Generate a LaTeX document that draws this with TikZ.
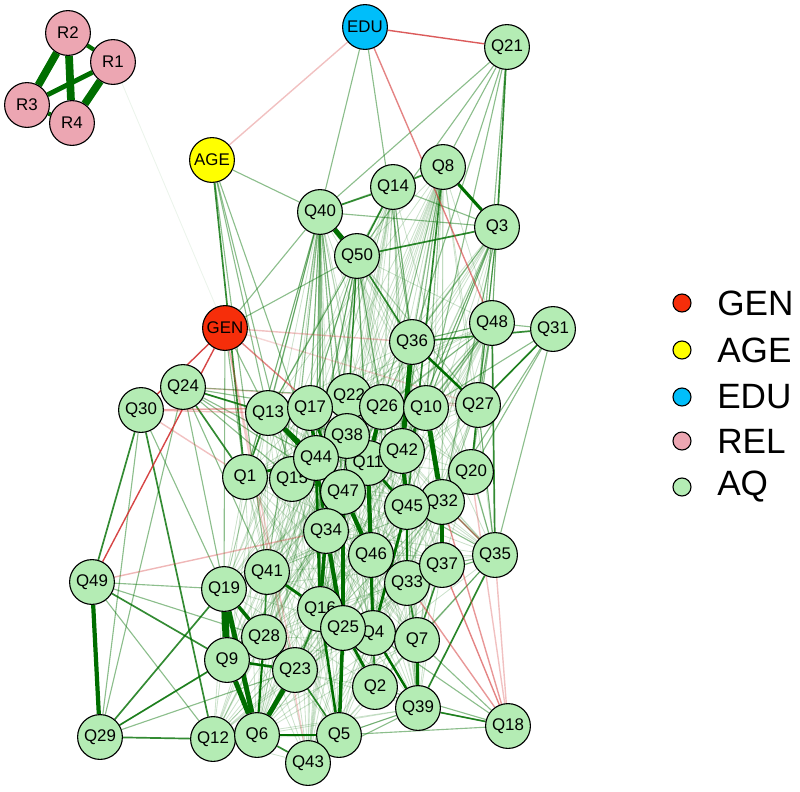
\documentclass[tikz,border=0pt]{standalone}
\usepackage{fontspec}
\setmainfont{Liberation Sans}
\usetikzlibrary{backgrounds}
\definecolor{aqfill}{RGB}{180,236,180}
\definecolor{relfill}{RGB}{236,166,178}
\definecolor{genfill}{RGB}{246,46,10}
\definecolor{agefill}{RGB}{255,255,0}
\definecolor{edufill}{RGB}{0,190,250}
\definecolor{posedge}{RGB}{0,110,0}
\definecolor{negedge}{RGB}{210,50,50}
\tikzset{
  item/.style={circle, draw=black, line width=0.8pt, minimum size=1.12cm, inner sep=0pt, font=\fontsize{12}{14}\selectfont},
  aq/.style={item, fill=aqfill},
  rel/.style={item, fill=relfill},
  legdot/.style={circle, draw=black, line width=0.8pt, minimum size=0.45cm, inner sep=0pt},
  legtext/.style={anchor=west, inner sep=0pt, font=\fontsize{25}{28}\selectfont},
  faintpos/.style={draw=posedge, opacity=0.2, line width=0.6pt},
  lightpos/.style={draw=posedge, opacity=0.45, line width=0.8pt},
  midpos/.style={draw=posedge, opacity=0.8, line width=1.2pt},
  strongpos/.style={draw=posedge, line width=#1},
  negline/.style={draw=negedge, opacity=#1, line width=1pt}
}
\def\corelist{Q1,Q2,Q4,Q5,Q6,Q7,Q9,Q10,Q11,Q12,Q13,Q15,Q16,Q17,Q19,Q20,Q22,Q23,Q25,Q26,Q27,Q28,Q32,Q33,Q34,Q36,Q37,Q38,Q41,Q42,Q43,Q44,Q45,Q46,Q47,Q3,Q50,Q40,Q14,Q8,Q48,Q35,Q39}
\begin{document}
\begin{tikzpicture}[x=0.025cm, y=-0.025cm]
\useasboundingbox (0,0) rectangle (800,791);

% REL block
\node[rel] (R2) at (68,33) {R2};
\node[rel] (R1) at (113,62) {R1};
\node[rel] (R3) at (27,105) {R3};
\node[rel] (R4) at (72,123) {R4};

% demographics
\node[item, fill=edufill] (EDU) at (365,27) {EDU};
\node[item, fill=agefill] (AGE) at (212,160) {AGE};
\node[item, fill=genfill] (GEN) at (225,328) {GEN};

% AQ items
\node[aq] (Q21) at (507,47) {Q21};
\node[aq] (Q14) at (393,187) {Q14};
\node[aq] (Q8) at (443,167) {Q8};
\node[aq] (Q40) at (320,212) {Q40};
\node[aq] (Q3) at (497,227) {Q3};
\node[aq] (Q50) at (357,256) {Q50};
\node[aq] (Q36) at (412,342) {Q36};
\node[aq] (Q48) at (492,323) {Q48};
\node[aq] (Q31) at (553,329) {Q31};
\node[aq] (Q24) at (183,387) {Q24};
\node[aq] (Q30) at (141,410) {Q30};
\node[aq] (Q22) at (349,396) {Q22};
\node[aq] (Q13) at (268,413) {Q13};
\node[aq] (Q17) at (310,408) {Q17};
\node[aq] (Q26) at (382,407) {Q26};
\node[aq] (Q10) at (426,408) {Q10};
\node[aq] (Q27) at (478,405) {Q27};
\node[aq] (Q11) at (368,463) {Q11};
\node[aq] (Q38) at (347,436) {Q38};
\node[aq] (Q42) at (402,451) {Q42};
\node[aq] (Q15) at (292,479) {Q15};
\node[aq] (Q44) at (316,458) {Q44};
\node[aq] (Q47) at (343,492) {Q47};
\node[aq] (Q20) at (471,472) {Q20};
\node[aq] (Q32) at (442,502) {Q32};
\node[aq] (Q45) at (407,507) {Q45};
\node[aq] (Q1) at (245,477) {Q1};
\node[aq] (Q34) at (326,531) {Q34};
\node[aq] (Q46) at (371,555) {Q46};
\node[aq] (Q33) at (407,583) {Q33};
\node[aq] (Q37) at (442,565) {Q37};
\node[aq] (Q35) at (495,555) {Q35};
\node[aq] (Q49) at (92,582) {Q49};
\node[aq] (Q41) at (267,572) {Q41};
\node[aq] (Q19) at (224,589) {Q19};
\node[aq] (Q4) at (373,633) {Q4};
\node[aq] (Q16) at (320,609) {Q16};
\node[aq] (Q25) at (343,628) {Q25};
\node[aq] (Q7) at (417,640) {Q7};
\node[aq] (Q28) at (264,637) {Q28};
\node[aq] (Q9) at (227,660) {Q9};
\node[aq] (Q23) at (295,670) {Q23};
\node[aq] (Q2) at (375,687) {Q2};
\node[aq] (Q39) at (418,708) {Q39};
\node[aq] (Q18) at (508,726) {Q18};
\node[aq] (Q29) at (100,737) {Q29};
\node[aq] (Q12) at (213,739) {Q12};
\node[aq] (Q6) at (257,735) {Q6};
\node[aq] (Q5) at (339,735) {Q5};
\node[aq] (Q43) at (308,763) {Q43};

% legend
\node[legdot, fill=genfill] (lgen) at (682,303) {};
\node[legdot, fill=agefill] (lage) at (682,350) {};
\node[legdot, fill=edufill] (ledu) at (682,397) {};
\node[legdot, fill=relfill] (lrel) at (682,441) {};
\node[legdot, fill=aqfill] (laq) at (682,487) {};
\node[legtext] (lgentxt) at (717,303) {GEN};
\node[legtext] (lagetxt) at (717,350) {AGE};
\node[legtext] (ledutxt) at (717,397) {EDU};
\node[legtext] (lreltxt) at (717,441) {REL};
\node[legtext] (laqtxt) at (717,487) {AQ};

\begin{scope}[on background layer]
% faint mesh in the main cluster
\pgfmathsetseed{4242}
\foreach \a [count=\i] in \corelist {
  \foreach \b [count=\j] in \corelist {
    \ifnum\j>\i
      \pgfmathtruncatemacro\keep{rnd<0.45}
      \ifnum\keep=1 \draw[faintpos] (\a) -- (\b); \fi
    \fi
  }
}
% light links
\foreach \a/\b in {EDU/Q40, AGE/Q40, AGE/Q13, AGE/Q15, AGE/Q41, AGE/Q44, Q21/Q40, Q21/Q50, Q21/Q8,
  Q21/Q36, Q21/Q27, Q21/Q10, Q40/Q3, Q14/Q3, Q14/Q36, Q8/Q36, Q8/Q10, Q8/Q26, Q8/Q42, Q3/Q36,
  Q3/Q10, Q3/Q27, Q3/Q20, Q3/Q42, Q3/Q48, Q3/Q32, Q40/Q13, Q40/Q17, Q40/Q44, Q40/Q1, Q40/Q15,
  Q40/Q47, Q40/Q34, Q40/Q38, Q40/Q41, Q40/Q16, Q50/Q17, Q50/Q22, Q50/Q38, Q50/Q44, Q50/Q13,
  Q50/Q47, Q50/Q11, Q50/Q34, Q50/Q26, Q31/Q10, Q31/Q20, Q31/Q48, Q31/Q35, Q31/Q32, Q48/Q27,
  Q48/Q10, Q48/Q20, Q48/Q42, Q48/Q36, Q35/Q37, Q35/Q32, Q35/Q33, Q35/Q45, Q35/Q7, Q35/Q20,
  Q35/Q27, Q18/Q7, Q18/Q4, Q18/Q2, Q18/Q5, Q39/Q33, Q39/Q2, Q39/Q5, Q39/Q43, Q24/Q17, Q24/Q44,
  Q24/Q38, Q24/Q15, Q24/Q47, Q24/Q19, Q24/Q41, Q24/Q22, Q30/Q19, Q30/Q29, Q49/Q12, Q49/Q19,
  Q49/Q28, Q29/Q28, Q29/Q23, Q29/Q24, GEN/Q1, GEN/Q19, GEN/Q13, GEN/Q50, GEN/Q40, EDU/Q36,
  Q31/Q27, Q18/Q39}
  \draw[lightpos] (\a) -- (\b);
\draw[draw=posedge, opacity=0.08, line width=0.6pt] (R1) -- (GEN);
% medium links
\foreach \a/\b in {Q40/Q14, Q14/Q8, Q14/Q50, Q21/Q3, Q36/Q31, Q27/Q31, Q29/Q12, Q29/Q19, Q29/Q9,
  Q49/Q9, Q39/Q18, Q35/Q39, Q30/Q49, Q30/Q12, Q8/Q45, Q24/Q13, Q24/Q1, Q5/Q43, Q6/Q43, Q23/Q5,
  Q15/Q44, Q15/Q47, Q1/Q13, Q28/Q23, Q41/Q28, Q16/Q23, Q4/Q2, Q33/Q7, Q37/Q7, Q20/Q32, Q27/Q20,
  Q48/Q35, Q10/Q42, Q26/Q42, Q22/Q38, Q17/Q38, Q3/Q50, Q50/Q36, AGE/Q1}
  \draw[midpos] (\a) -- (\b);
% negative links
\foreach \a/\b/\o in {EDU/Q21/0.8, EDU/Q48/0.6, EDU/AGE/0.3, GEN/Q30/0.9, GEN/Q49/0.9, GEN/Q38/0.6,
  GEN/Q36/0.3, GEN/Q27/0.2, GEN/Q23/0.25, GEN/Q43/0.25, Q30/Q13/0.3, Q30/Q17/0.3, Q30/Q27/0.2,
  Q30/Q1/0.3, Q49/Q34/0.35, Q18/Q37/0.6, Q18/Q32/0.5, Q18/Q33/0.5, Q18/Q35/0.3, Q18/Q20/0.3,
  Q35/Q32/0.5, Q24/Q27/0.2}
  \draw[negline=\o] (\a) -- (\b);
% strong links
\foreach \a/\b/\w in {R2/R3/5.5, R2/R4/5.5, R1/R4/5.5, R1/R3/3.5, R1/R2/3, R3/R4/3,
  Q49/Q29/3, Q40/Q50/3.5, Q8/Q3/2.2, Q19/Q9/5, Q19/Q6/3.5, Q9/Q6/3.5, Q19/Q28/2.5, Q23/Q6/3.5,
  Q28/Q6/1.5, Q9/Q23/1.8, Q12/Q6/1.5, Q6/Q5/1.8, Q36/Q42/3.5, Q10/Q32/3.5, Q32/Q37/2.5,
  Q36/Q27/1.8, Q13/Q44/3, Q17/Q44/2.5, Q13/Q47/2, Q1/Q44/2, Q38/Q11/3, Q26/Q11/3, Q44/Q47/3,
  Q47/Q46/3, Q11/Q46/3, Q44/Q34/2, Q42/Q45/3, Q11/Q45/2, Q45/Q33/2, Q46/Q4/2, Q34/Q16/2.5,
  Q34/Q25/3, Q25/Q5/2.5, Q16/Q5/1.8, Q25/Q2/2, Q4/Q39/1.8, Q7/Q39/2, Q41/Q16/2, Q17/Q47/2,
  Q22/Q11/2, Q47/Q25/2.5, Q45/Q4/2, Q37/Q33/1.5, Q44/Q16/2, Q11/Q4/2}
  \draw[strongpos=\w pt] (\a) -- (\b);
\end{scope}
\end{tikzpicture}
\end{document}
